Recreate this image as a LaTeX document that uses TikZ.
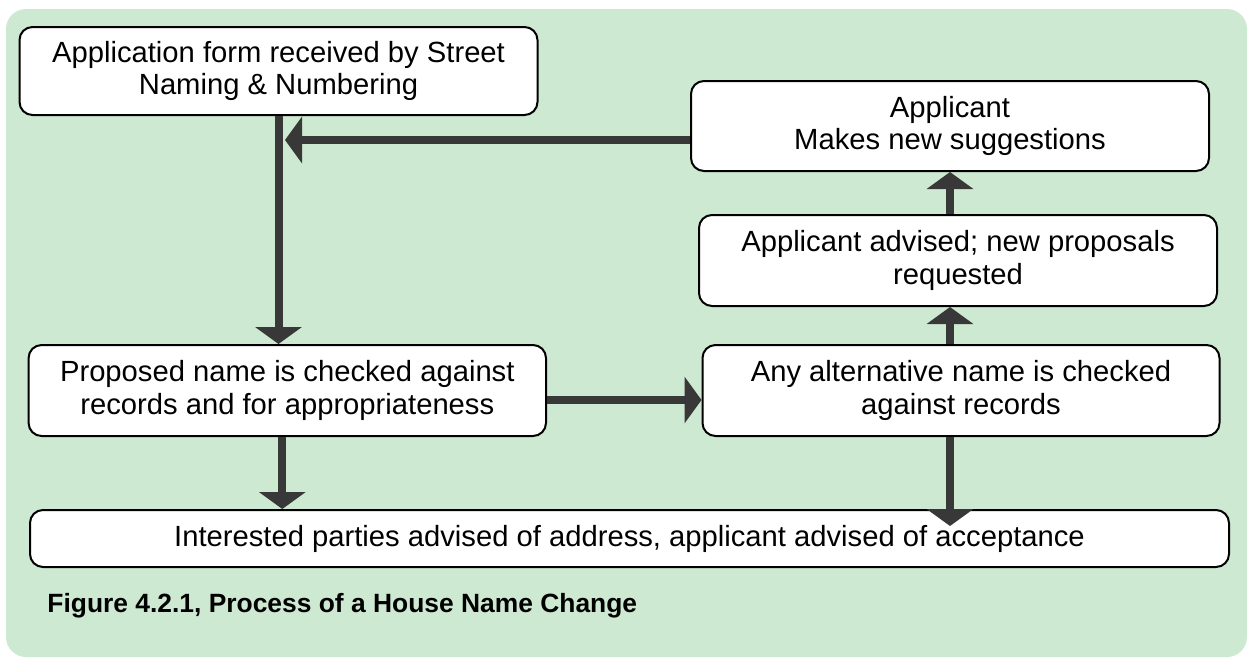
\documentclass[tikz,border=0pt]{standalone}
\usepackage{fontspec}
\setmainfont{Liberation Sans}
\usetikzlibrary{arrows.meta, calc}
\definecolor{panelgreen}{RGB}{206,233,209}
\definecolor{flowgrey}{RGB}{56,56,56}

\begin{document}
\begin{tikzpicture}[x=0.5pt,y=-0.5pt]
	\tikzstyle{stage}=[draw=black,line width=1pt,fill=white,rounded corners=6.5pt,align=center,inner sep=0pt,font=\fontsize{14.6}{16.2}\selectfont]
	\tikzstyle{flow}=[draw=flowgrey,line width=4pt,-{Triangle[width=23pt,length=8.5pt]}]
	\useasboundingbox (0,0) rectangle (1251,660);
	\fill[panelgreen,rounded corners=10pt] (6,9) rectangle (1247,657);
	\node[stage,minimum width=259pt,minimum height=44pt] (form) at (278.5,71) {Application form received by Street\\Naming \& Numbering};
	\node[stage,minimum width=259pt,minimum height=45pt] (sug) at (950,126) {Applicant\\Makes new suggestions};
	\node[stage,minimum width=259pt,minimum height=45.5pt] (adv) at (958,260.5) {Applicant advised; new proposals\\requested};
	\node[stage,minimum width=258.5pt,minimum height=45.5pt] (alt) at (961,390.5) {Any alternative name is checked\\against records};
	\node[stage,minimum width=258.7pt,minimum height=45.5pt] (prop) at (287.3,390.5) {Proposed name is checked against\\records and for appropriateness};
	\node[stage,minimum width=599.5pt,minimum height=28.5pt] (done) at (629.5,538.5) {Interested parties advised of address, applicant advised of acceptance};
	\node[anchor=base west,inner sep=0pt,font=\fontsize{13.2}{15}\selectfont\bfseries] (caption) at (47,612) {Figure 4.2.1, Process of a House Name Change};
	\draw[flow] (form.south) -- (form.south |- prop.north);
	\draw[flow] ($(sug.west)+(0,14)$) -- ($(sug.west -| form.south)+(6.5,14)$);
	\draw[flow] (adv.north -| sug.south) -- (sug.south);
	\draw[flow] (alt.north -| sug.south) -- (adv.south -| sug.south);
	\draw[flow] ($(prop.east)+(0,9.5)$) -- ($(alt.west)+(0,9.5)$);
	\draw[flow] ($(prop.south)+(-5,0)$) -- ($(prop.south |- done.north)+(-5,0)$);
	\draw[flow] (alt.south -| sug.south) -- ($(done.north -| sug.south)+(0,17)$);
\end{tikzpicture}
\end{document}
